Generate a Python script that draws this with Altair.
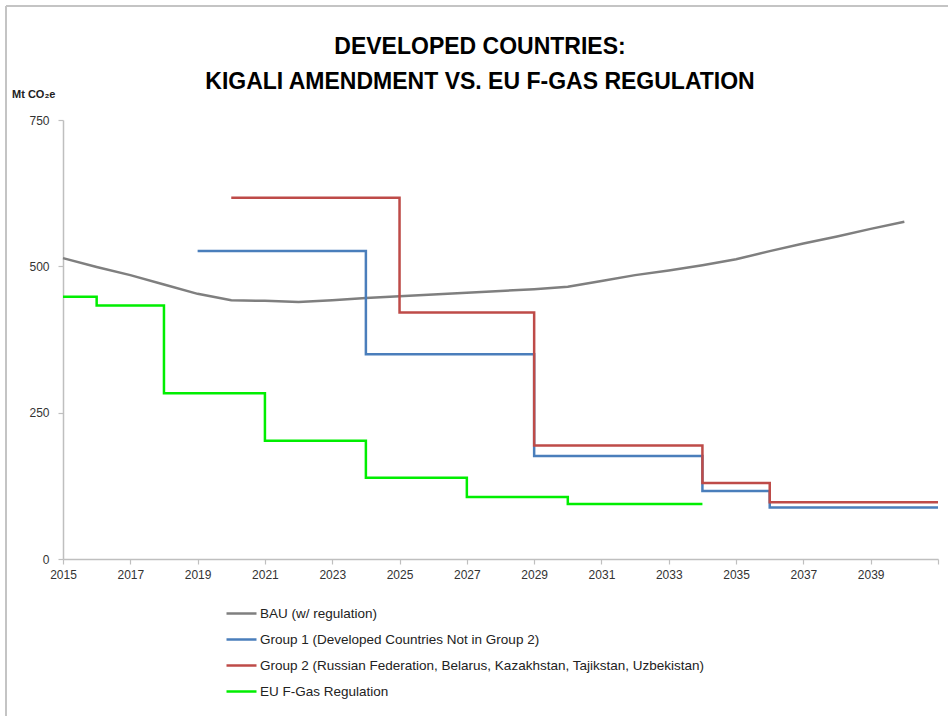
import altair as alt
import pandas as pd

# ---- data ----
series_names = [
    "BAU (w/ regulation)",
    "Group 1 (Developed Countries Not in Group 2)",
    "Group 2 (Russian Federation, Belarus, Kazakhstan, Tajikstan, Uzbekistan)",
    "EU F-Gas Regulation",
]
series_colors = ["#7f7f7f", "#4a7ebb", "#be4b48", "#00ee00"]

bau_years = list(range(2015, 2041))
bau_values = [514, 499, 485, 469, 453, 442, 441, 439, 442, 446, 449, 452, 455,
              458, 461, 465, 475, 485, 493, 502, 512, 526, 539, 551, 564, 576]

g1_years = [2019, 2024, 2029, 2034, 2036, 2041]
g1_values = [526, 350, 176, 116, 88, 88]

g2_years = [2020, 2025, 2029, 2034, 2036, 2041]
g2_values = [617, 421, 194, 130, 97, 97]

eu_years = [2015, 2016, 2018, 2021, 2024, 2027, 2030, 2034]
eu_values = [448, 433, 283, 202, 139, 106, 94, 94]

title_lines = ["DEVELOPED COUNTRIES:", "KIGALI AMENDMENT VS. EU F-GAS REGULATION"]
unit_label = "Mt CO\u2082e"
x_ticks = list(range(2015, 2042, 2))
y_ticks = [0, 250, 500, 750]

bau_df = pd.DataFrame({"year": bau_years, "value": bau_values, "series": series_names[0]})
step_df = pd.concat([
    pd.DataFrame({"year": g1_years, "value": g1_values, "series": series_names[1]}),
    pd.DataFrame({"year": g2_years, "value": g2_values, "series": series_names[2]}),
    pd.DataFrame({"year": eu_years, "value": eu_values, "series": series_names[3]}),
])

FONT = "Liberation Sans"

x_enc = alt.X("year:Q", scale=alt.Scale(domain=[2015, 2041], nice=False, zero=False),
              axis=alt.Axis(values=x_ticks, format="d", title=None, labelPadding=5,
                            labelExpr="datum.value == 2041 ? '' : datum.label",
                            labelFlush=False, labelOverlap=False))
y_enc = alt.Y("value:Q", scale=alt.Scale(domain=[0, 750], nice=False),
              axis=alt.Axis(values=y_ticks, title=None, labelPadding=9))
color_enc = alt.Color("series:N",
                      scale=alt.Scale(domain=series_names, range=series_colors),
                      legend=alt.Legend(orient="none", legendX=162, legendY=477,
                                        title=None, symbolType="stroke",
                                        symbolSize=900, symbolStrokeWidth=2.5,
                                        labelFont=FONT, labelFontSize=13.5,
                                        labelColor="#222222", rowPadding=3,
                                        labelOffset=2, padding=0, labelLimit=600))

bau = alt.Chart(bau_df).mark_line(strokeWidth=2.5, interpolate="linear").encode(
    x=x_enc, y=y_enc, color=color_enc)
steps = alt.Chart(step_df).mark_line(strokeWidth=2.5, interpolate="step-after").encode(
    x=x_enc, y=y_enc, color=color_enc, detail="series:N")

t1 = alt.Chart(alt.Data(values=[{"t": title_lines[0]}])).mark_text(
    font=FONT, fontSize=23, fontWeight="bold", align="center", baseline="alphabetic",
    color="#000000").encode(text="t:N", x=alt.value(417), y=alt.value(-66))
t2 = alt.Chart(alt.Data(values=[{"t": title_lines[1]}])).mark_text(
    font=FONT, fontSize=23, fontWeight="bold", align="center", baseline="alphabetic",
    color="#000000").encode(text="t:N", x=alt.value(417), y=alt.value(-31))
unit = alt.Chart(alt.Data(values=[{"t": unit_label}])).mark_text(
    font=FONT, fontSize=11, fontWeight="bold", align="left", baseline="alphabetic",
    color="#222222").encode(text="t:N", x=alt.value(-51), y=alt.value(-22))

border_top = alt.Chart(alt.Data(values=[{}])).mark_rule(color="#c4c4c4", strokeWidth=2).encode(
    x=alt.value(-57), x2=alt.value(890), y=alt.value(-114))
border_left = alt.Chart(alt.Data(values=[{}])).mark_rule(color="#c4c4c4", strokeWidth=2).encode(
    x=alt.value(-57), y=alt.value(-114), y2=alt.value(600))

chart = alt.layer(bau, steps, t1, t2, unit, border_top, border_left).properties(
    width=875, height=439,
    autosize=alt.AutoSizeParams(type="none"),
    padding={"left": 63, "top": 120, "right": 10, "bottom": 157},
).configure_view(strokeWidth=0).configure_axis(
    grid=False, domainColor="#bfbfbf", tickColor="#bfbfbf", domainWidth=1.5,
    tickWidth=1.2, tickSize=5, labelFont=FONT, labelFontSize=12, labelColor="#333333",
)

chart.save("out.html", embed_options={"renderer": "svg", "actions": False})
